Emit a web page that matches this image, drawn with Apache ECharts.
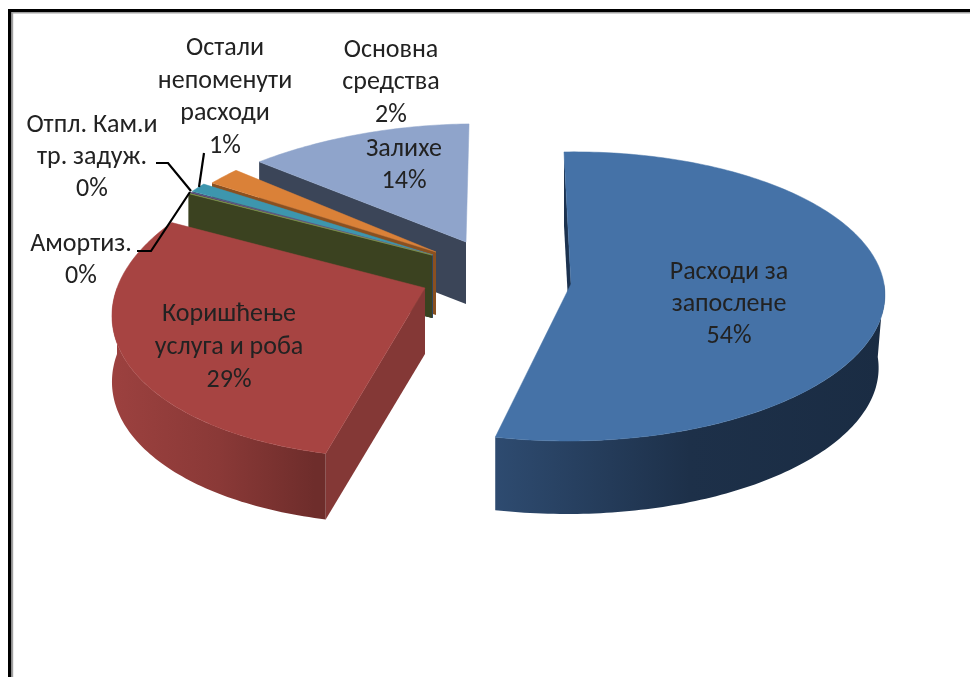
<!DOCTYPE html>
<html><head><meta charset="utf-8">
<style>html,body{margin:0;padding:0;background:#fff}#c{width:970px;height:677px;filter:blur(0.45px)}</style>
<script src="https://cdn.jsdelivr.net/npm/echarts@6/dist/echarts.min.js"></script>
</head><body><div id="c"></div>
<script>
// ---- data ----
const categories = ['Расходи за\nзапослене','Коришћење\nуслуга и роба','Амортиз.','Отпл. Кам.и\nтр. задуж.','Остали\nнепоменути\nрасходи','Основна\nсредства','Залихе'];
const values = [54, 29, 0.05, 0.05, 1, 2, 14];
const startAngle = -2;
// ---- styling / layout, one row per category ----
const geometry = [
 {ax:571,ay:284,rx:313,ry:143.5,k:.086,s:.023,h:73,wallIn:.02},
 {ax:425,ay:288,rx:308,ry:153,k:.098,s:.165,h:66,wallIn:0},
 {ax:432,ay:255,rx:304,ry:150,k:.2,s:.1,h:63,wallIn:0},
 {ax:432.5,ay:255,rx:303,ry:152,k:.2,s:.1,h:63,wallIn:0},
 {ax:433,ay:255,rx:302,ry:154,k:.2,s:.1,h:63,wallIn:0},
 {ax:436,ay:252,rx:295,ry:150,k:.2,s:.1,h:63,wallIn:0},
 {ax:466,ay:242,rx:328,ry:158.7,k:.343,s:.098,h:62,wallIn:0}
];
const topColors = ['#4572A7','#A74442','#89A54E','#71588F','#3D96AE','#DA8138','#8FA4CB'];
const faceColors = ['#1c324f','#843836','#3B4220','#3f3054','#255c6b','#8a5020','#3B4558'];
const wallStops = [
 [[0,'#2e4b70'],[.5,'#1d3049'],[1,'#1a2c43']],
 [[0,'#9c413f'],[.5,'#8a3937'],[.95,'#6e2d2b'],[1,'#6e2d2b']],
 null,null,null,null,null
];
const labelBoxes = [
 {x:729,ys:[272,304,336]},{x:229,ys:[314,347,380]},{x:81,ys:[244,276]},{x:92,ys:[125,157,189]},
 {x:225,ys:[48,81,113,146]},{x:391,ys:[50,82,115]},{x:404,ys:[149,181]}
];
const leaders = [
 null,null,
 [[137,251],[151,251],[190,192]],
 [[156,163],[168,163],[191,191]],
 [[204,153],[199,187]],
 null,null
];
const fontFamily = 'Carlito, Lato, "Open Sans", sans-serif';
const fontSize = 26;

// ---- angles ----
const total = values.reduce((a,b)=>a+b,0);
let acc = startAngle;
const spans = values.map(v=>{const a=acc; acc+=v/total*360; return [a,acc];});
function rim(g,deg){
  const t=deg*Math.PI/180,X=Math.sin(t),Z=Math.cos(t),w=1+g.k*Z;
  return [g.ax+g.rx*X/w+g.s*g.ry*Z/w, g.ay-g.ry*Z/w];
}
function arc(g,a,b){const p=[];const n=Math.max(1,Math.ceil(Math.abs(b-a)));for(let i=0;i<=n;i++)p.push(rim(g,a+(b-a)*i/n));return p;}
function renderSlice(params,api){
  const i=api.value(0),g=geometry[i],[a,b]=spans[i],kids=[];
  const drop=p=>[p[0]-Math.max(0,p[0]-g.ax)*g.wallIn,p[1]+g.h];
  const apex=[g.ax,g.ay],first=rim(g,a);
  kids.push({type:'polygon',silent:true,shape:{points:[apex,first,drop(first),drop(apex)]},style:{fill:faceColors[i]}});
  const lo=Math.max(a,90),hi=Math.min(b,270);
  if(hi>lo){
    const top=arc(g,lo,hi),bot=top.map(drop).reverse();
    const stops=wallStops[i];
    const fill=stops?new echarts.graphic.LinearGradient(0,0,1,0,stops.map(s=>({offset:s[0],color:s[1]}))):faceColors[i];
    kids.push({type:'polygon',silent:true,shape:{points:top.concat(bot)},style:{fill}});
  }
  kids.push({type:'polygon',silent:true,shape:{points:[apex].concat(arc(g,a,b))},style:{fill:topColors[i],stroke:topColors[i],lineWidth:.5}});
  return {type:'group',children:kids};
}
function renderLabel(params,api){
  const i=api.value(0),box=labelBoxes[i];
  const lines=categories[i].split('\n').concat([Math.round(values[i])+'%']);
  const kids=lines.map((t,j)=>({type:'text',silent:true,style:{text:t,x:box.x,y:box.ys[j],align:'center',verticalAlign:'middle',fill:'#222',font:fontSize+'px '+fontFamily}}));
  if(leaders[i])kids.push({type:'polyline',silent:true,shape:{points:leaders[i]},style:{fill:null,stroke:'#000',lineWidth:2.2}});
  return {type:'group',children:kids};
}
const chart=echarts.init(document.getElementById('c'),null,{renderer:'canvas'});
const order=categories.map((_,i)=>i).reverse();
chart.setOption({
  animation:false,backgroundColor:'#fff',
  graphic:[
    {type:'rect',silent:true,shape:{x:8,y:9,width:962,height:3},style:{fill:'#000'}},
    {type:'rect',silent:true,shape:{x:11.5,y:12,width:958.5,height:1.5},style:{fill:'#a0a0a0'}},
    {type:'rect',silent:true,shape:{x:8,y:9,width:3.5,height:668},style:{fill:'#000'}},
    {type:'rect',silent:true,shape:{x:11.5,y:12,width:1.7,height:665},style:{fill:'#a0a0a0'}}
  ],
  series:[
    {type:'custom',coordinateSystem:'none',renderItem:renderSlice,z:2,data:order.map(i=>({name:categories[i],value:[i,values[i]]}))},
    {type:'custom',coordinateSystem:'none',renderItem:renderLabel,z:3,data:order.map(i=>({name:categories[i],value:[i,values[i]]}))}
  ]
});
</script></body></html>
